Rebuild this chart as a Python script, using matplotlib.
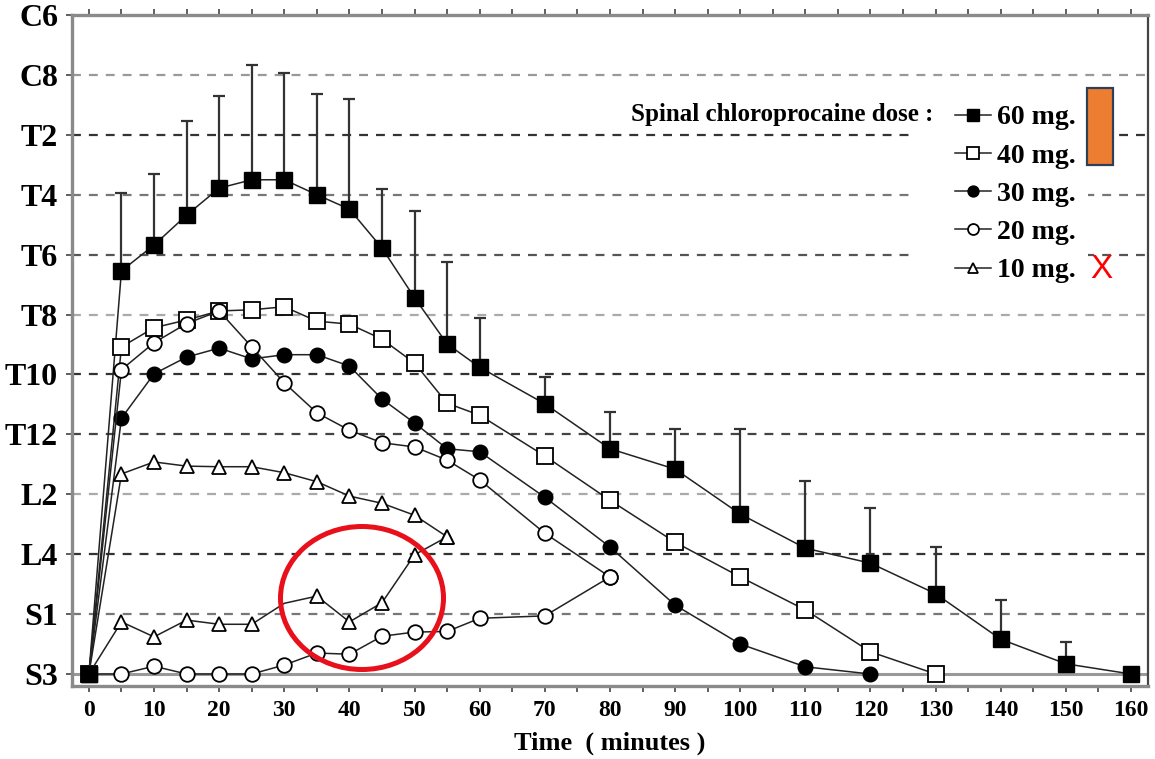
import matplotlib.pyplot as plt
from matplotlib.patches import Ellipse, Rectangle

# Sensory block level, coded 0 (S3) to 11 (C6) in two-segment steps
LEVEL_LABELS = ["S3", "S1", "L4", "L2", "T12", "T10", "T8", "T6", "T4", "T2", "C8", "C6"]

time_60 = [0, 5, 10, 15, 20, 25, 30, 35, 40, 45, 50, 55, 60, 70, 80, 90, 100, 110, 120, 130, 140, 150, 160]
level_60 = [0, 6.73, 7.16, 7.66, 8.11, 8.25, 8.25, 8.00, 7.76, 7.11, 6.28, 5.51, 5.12, 4.51, 3.76, 3.42,
            2.67, 2.10, 1.85, 1.34, 0.58, 0.17, 0]
sd_60 = [0, 1.30, 1.19, 1.57, 1.54, 1.92, 1.78, 1.68, 1.84, 0.99, 1.45, 1.37, 0.82, 0.45, 0.61, 0.67,
         1.42, 1.12, 0.92, 0.78, 0.66, 0.36, 0]

time_40 = [0, 5, 10, 15, 20, 25, 30, 35, 40, 45, 50, 55, 60, 70, 80, 90, 100, 110, 120, 130]
level_40 = [0, 5.46, 5.78, 5.91, 6.06, 6.08, 6.13, 5.89, 5.84, 5.59, 5.19, 4.52, 4.32, 3.64, 2.90, 2.20,
            1.62, 1.07, 0.37, 0]

time_30 = [0, 5, 10, 15, 20, 25, 30, 35, 40, 45, 50, 55, 60, 70, 80, 90, 100, 110, 120]
level_30 = [0, 4.27, 5.01, 5.29, 5.44, 5.26, 5.33, 5.33, 5.14, 4.59, 4.19, 3.76, 3.71, 2.95, 2.12, 1.15,
            0.50, 0.12, 0]

time_20 = [0, 5, 10, 15, 20, 25, 30, 35, 40, 45, 50, 55, 60, 70, 80]
level_20_upper = [0, 5.08, 5.53, 5.85, 6.06, 5.46, 4.86, 4.36, 4.07, 3.86, 3.79, 3.57, 3.24, 2.35, 1.62]
level_20_lower = [0, 0, 0.13, 0, 0, 0, 0.15, 0.35, 0.33, 0.63, 0.70, 0.71, 0.93, 0.97, 1.62]

time_10 = [0, 5, 10, 15, 20, 25, 30, 35, 40, 45, 50, 55]
level_10_upper = [0, 3.34, 3.54, 3.47, 3.46, 3.46, 3.36, 3.21, 2.97, 2.85, 2.65, 2.29]
level_10_lower = [0, 0.87, 0.62, 0.90, 0.83, 0.83, 1.18, 1.30, 0.87, 1.19, 1.99, 2.29]

DOSE_LABELS = ["60 mg.", "40 mg.", "30 mg.", "20 mg.", "10 mg."]

# grid shade for S1 .. C8 (the scanned original has uneven dash darkness)
GRID_SHADES = ["#777777", "#333333", "#aaaaaa", "#444444", "#333333", "#aaaaaa",
               "#555555", "#777777", "#333333", "#999999"]

plt.rcParams["font.family"] = ["Liberation Serif", "DejaVu Serif"]
plt.rcParams["font.weight"] = "bold"

fig = plt.figure(figsize=(11.55, 7.59), dpi=100)
ax = fig.add_axes([0.0623, 0.0962, 0.9316, 0.884])

for level, shade in zip(range(1, 11), GRID_SHADES):
    ax.axhline(level, color=shade, lw=1.6, ls=(0, (4, 3.6)), zorder=1)
ax.axhline(0, color="#999999", lw=2.2, zorder=1)

line_kw = dict(color="#222222", lw=1.1, zorder=4)

ax.errorbar(time_60, level_60, yerr=[[0] * len(sd_60), sd_60], fmt="none",
            ecolor="#333333", elinewidth=1.6, capsize=4, capthick=1.6, zorder=3)
ax.plot(time_60, level_60, marker="s", ms=11, mfc="black", mec="black", label=DOSE_LABELS[0], **line_kw)
ax.plot(time_40, level_40, marker="s", ms=11, mfc="white", mec="black", mew=1.3,
        label=DOSE_LABELS[1], **line_kw)
ax.plot(time_30, level_30, marker="o", ms=10.5, mfc="black", mec="black", label=DOSE_LABELS[2], **line_kw)
ax.plot(time_20, level_20_upper, marker="o", ms=10.5, mfc="white", mec="black", mew=1.3,
        label=DOSE_LABELS[3], **line_kw)
ax.plot(time_20, level_20_lower, marker="o", ms=10.5, mfc="white", mec="black", mew=1.3,
        label="_nolegend_", **line_kw)
ax.plot(time_10, level_10_upper, marker="^", ms=10.5, mfc="white", mec="black", mew=1.3,
        label=DOSE_LABELS[4], **line_kw)
ax.plot(time_10, level_10_lower, marker="^", ms=10.5, mfc="white", mec="black", mew=1.3,
        markevery=[0, 1, 2, 3, 4, 5, 7, 8, 9, 10, 11], label="_nolegend_", **line_kw)
# redraw the shared start point on top
ax.plot(time_60[:1], level_60[:1], marker="s", ms=11, mfc="black", mec="black", ls="none", zorder=6)

ax.set_xlim(-2.6, 162.6)
ax.set_ylim(-0.2, 11)
ax.set_xticks(range(0, 161, 10))
ax.set_xticks(range(5, 161, 10), minor=True)
ax.set_yticks(range(12))
ax.set_yticklabels(LEVEL_LABELS)

ax.tick_params(axis="x", which="both", direction="out", length=4, width=1.2, color="#444444",
               labelsize=17, pad=6, top=True)
ax.tick_params(axis="y", direction="out", length=4, width=1.2, color="#444444", labelsize=23, pad=6)
for lab in ax.get_xticklabels() + ax.get_yticklabels():
    lab.set_fontweight("bold")

for side in ["left", "top", "bottom"]:
    ax.spines[side].set_color("#8a8a8a")
    ax.spines[side].set_linewidth(2.4)
ax.spines["right"].set_color("#444444")
ax.spines["right"].set_linewidth(1.6)

ax.set_xlabel("Time  ( minutes )", fontsize=19, fontweight="bold", labelpad=8)

# white block behind the legend entries, kept inside the axes so the legend stays on top
ax.add_patch(Rectangle((912 / 1155, 1 - 285 / 759), 176 / 1155, 195 / 759, transform=fig.transFigure,
                       facecolor="white", edgecolor="none", zorder=2, clip_on=False))

leg = ax.legend(loc="upper left", bbox_to_anchor=(941 / 1155, 1 - 91 / 759), bbox_transform=fig.transFigure,
                frameon=False, fontsize=20, handlelength=1.3, handletextpad=0.2, labelspacing=0.46,
                borderpad=0, markerscale=0.75)
for txt in leg.get_texts():
    txt.set_fontweight("bold")
leg.set_zorder(7)

fig.text(933 / 1155, 1 - 114 / 759, "Spinal chloroprocaine dose :", ha="right", va="center",
         fontsize=18, fontweight="bold")

# highlight marks
fig.patches.append(Rectangle((1087 / 1155, 1 - 165 / 759), 26 / 1155, 77 / 759, transform=fig.transFigure,
                             facecolor="#ED7D31", edgecolor="#2E4057", lw=1.6, zorder=8))
fig.text(1101 / 1155, 1 - 270 / 759, "X", ha="center", va="center", color="red", fontsize=24,
         family=["Liberation Sans", "DejaVu Sans"], fontweight="normal")
fig.patches.append(Ellipse((362 / 1155, 1 - 598 / 759), 163 / 1155, 143 / 759, transform=fig.transFigure,
                           facecolor="none", edgecolor="#E8101A", lw=3.6, zorder=8))

fig.savefig("out.png", dpi=100)
